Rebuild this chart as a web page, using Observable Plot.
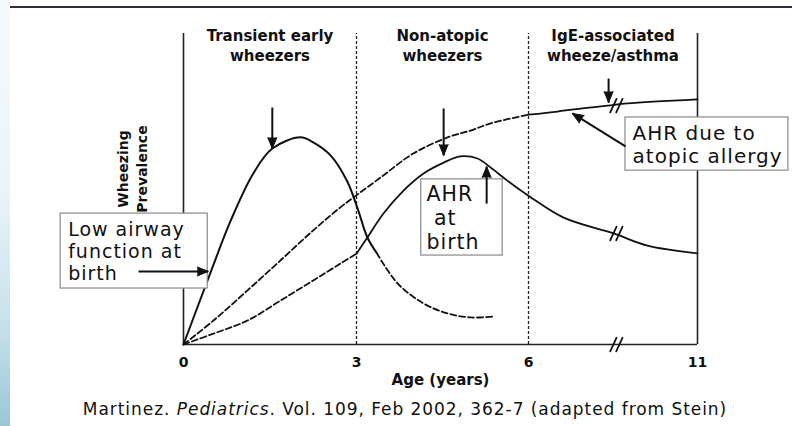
<!DOCTYPE html>
<html><head><meta charset="utf-8">
<script src="https://cdn.jsdelivr.net/npm/d3@7"></script>
<script src="https://cdn.jsdelivr.net/npm/@observablehq/plot@0.6"></script>
<style>
html,body{margin:0;padding:0;background:#fff;}
#wrap{position:relative;width:792px;height:426px;overflow:hidden;background:#fff;}
#chart{position:absolute;left:0;top:0;}
#strip{position:absolute;left:0;top:0;width:10px;height:426px;background:linear-gradient(#f5fbfd,#eaf4f9 45%,#c8e2ec 75%,#9cc7d7);}
#rule{position:absolute;left:10px;right:0;top:6px;height:2px;background:#2e2f36;}
#caption{position:absolute;left:0;width:810px;top:399px;text-align:center;font:17px/20px "DejaVu Sans",sans-serif;letter-spacing:0.95px;color:#111;white-space:nowrap;}
</style></head>
<body>
<div id="wrap"><div id="chart"></div><div id="strip"></div><div id="rule"></div>
<div id="caption">Martinez. <i>Pediatrics</i>. Vol. 109, Feb 2002, 362-7 (adapted from Stein)</div></div>
<script>
// ---- data (age in years, wheezing prevalence in arbitrary units 0-100) ----
const ageTicks = [0, 3, 6, 11];
const periodLabels = ["Transient early\nwheezers", "Non-atopic\nwheezers", "IgE-associated\nwheeze/asthma"];
const periodStarts = [0, 3, 6];
const periodEnds = [3, 6, 11];

const transientSolid = [[0,0],[0.47,23.2],[0.82,39.9],[1.21,55.0],[1.54,63.0],[2.03,66.6],[2.25,65.0],[2.55,60.8],[2.84,52.4],[3.02,43.7],[3.19,34.4],[3.35,29.5]];
const transientDashed = [[3.35,29.5],[3.72,19.6],[4.17,13.2],[4.59,10.0],[4.99,8.7],[5.39,9.0]];
const nonAtopicDashed = [[0,0],[0.52,3.5],[1.11,7.7],[1.68,14.1],[2.25,20.6],[2.72,26.0],[3.0,29.2]];
const nonAtopicSolid = [[3.0,29.2],[3.19,34.4],[3.47,42.1],[3.82,49.5],[4.17,55.0],[4.52,58.5],[4.81,60.5],[5.11,59.8],[5.34,56.9],[5.63,52.7],[6.03,47.6],[7.04,40.8],[8.52,35.7],[9.52,31.8],[11,29.3]];
const atopicDashed = [[0,0],[0.52,7.7],[1.11,17.4],[1.68,27.0],[2.25,36.7],[2.72,44.1],[2.95,47.3],[3.42,53.7],[3.99,61.4],[4.59,66.6],[4.99,68.8],[5.34,71.1],[6.0,73.9]];
const atopicSolid = [[6.0,73.9],[6.86,74.9],[7.33,75.6],[8.34,76.8],[8.93,77.5],[11,78.8]];

const breakAge = 8.6;
const breakLevels = [76.8, 35.7, 0];

const boxLabels = ["Low airway\nfunction at\nbirth", "AHR\n\u00a0at\nbirth", "AHR due to\natopic allergy"];
const boxAge = [[-2.13, 0.42], [4.13, 5.55], [8.87, 13.69]];
const boxPrev = [[18.0, 42.1], [28.6, 53.1], [55.9, 73.0]];
const boxTextAge = [-2.0, 4.22, 9.08];

// arrows: [tailAge, tailPrev, tipAge, tipPrev]
const arrowList = [
  [1.54, 76.2, 1.54, 63.0],
  [4.52, 75.9, 4.52, 60.8],
  [5.27, 45.3, 5.27, 57.2],
  [8.37, 85.5, 8.37, 77.8],
  [8.87, 63.7, 7.30, 74.3],
  [-0.78, 23.5, 0.43, 23.5]
];

// ---- build ----
const xOpts = {type: "linear", domain: ageTicks, range: [183, 356, 528, 697]};
const yOpts = {type: "linear", domain: [0, 100], range: [344, 33]};
const xs = Plot.scale({x: xOpts});
const ys = Plot.scale({y: yOpts});

const arrows = arrowList.map(([x1, y1, x2, y2]) => ({x1, y1, x2, y2}));
const angle = a => Math.atan2(xs.apply(a.x2) - xs.apply(a.x1), -(ys.apply(a.y2) - ys.apply(a.y1))) * 180 / Math.PI;

const boxes = boxLabels.map((label, i) => ({label, x1: boxAge[i][0], x2: boxAge[i][1], y1: boxPrev[i][0], y2: boxPrev[i][1], tx: boxTextAge[i]}));
const periods = periodLabels.map((label, i) => ({label, mid: (periodStarts[i] + periodEnds[i]) / 2}));
const breaks = breakLevels.map(y => ({x: breakAge, y}));

const slash = {draw(ctx, l) { ctx.moveTo(0, 0); ctx.lineTo(0, -l); }};
const ink = "#111";
const P = d => d[0], V = d => d[1];
const mid = d => (d.y1 + d.y2) / 2;

const chart = Plot.plot({
  width: 792, height: 400,
  marginLeft: 183, marginRight: 95, marginTop: 33, marginBottom: 56,
  x: {...xOpts, axis: null},
  y: {...yOpts, axis: null},
  style: {fontFamily: "DejaVu Sans", color: ink, background: "transparent"},
  marks: [
    Plot.ruleX([0, 11], {y1: 0, y2: 100, stroke: "#222", strokeWidth: 1.6}),
    Plot.ruleX([3, 6], {y1: 0, y2: 100, stroke: "#222", strokeWidth: 1.3, strokeDasharray: "3,2"}),
    Plot.ruleY([0], {x1: 0, x2: 11, stroke: "#222", strokeWidth: 1.6}),
    Plot.line(transientSolid, {x: P, y: V, curve: "catmull-rom", stroke: ink, strokeWidth: 2}),
    Plot.line(transientDashed, {x: P, y: V, curve: "catmull-rom", stroke: ink, strokeWidth: 1.8, strokeDasharray: "6,3"}),
    Plot.line(nonAtopicDashed, {x: P, y: V, curve: "catmull-rom", stroke: ink, strokeWidth: 1.8, strokeDasharray: "6,3"}),
    Plot.line(nonAtopicSolid, {x: P, y: V, curve: "catmull-rom", stroke: ink, strokeWidth: 1.8}),
    Plot.line(atopicDashed, {x: P, y: V, curve: "catmull-rom", stroke: ink, strokeWidth: 1.8, strokeDasharray: "6,3"}),
    Plot.line(atopicSolid, {x: P, y: V, curve: "catmull-rom", stroke: ink, strokeWidth: 1.8}),
    Plot.vector(breaks, {x: "x", y: "y", length: 15, rotate: 25, anchor: "middle", shape: slash, stroke: ink, strokeWidth: 1.8, dx: -3}),
    Plot.vector(breaks, {x: "x", y: "y", length: 15, rotate: 25, anchor: "middle", shape: slash, stroke: ink, strokeWidth: 1.8, dx: 3}),
    Plot.rect(boxes, {x1: "x1", x2: "x2", y1: "y1", y2: "y2", fill: "white", stroke: "#8a8a8a", strokeWidth: 1.2}),
    Plot.text(boxes.slice(0, 1), {x: "tx", y: mid, text: "label", textAnchor: "start", lineAnchor: "middle", fontSize: 19, lineHeight: 1.17}),
    Plot.text(boxes.slice(1, 2), {x: "tx", y: mid, text: "label", textAnchor: "start", lineAnchor: "middle", fontSize: 20.5, lineHeight: 1.17}),
    Plot.text(boxes.slice(2, 3), {x: "tx", y: mid, text: "label", textAnchor: "start", lineAnchor: "middle", fontSize: 20, lineHeight: 1.17}),
    Plot.link(arrows, {x1: "x1", y1: "y1", x2: "x2", y2: "y2", stroke: ink, strokeWidth: 2}),
    Plot.vector(arrows, {x: "x2", y: "y2", rotate: angle, length: 11, r: 4.5, shape: "spike", anchor: "end", fill: ink, stroke: ink, strokeWidth: 1}),
    Plot.text(periods, {x: "mid", frameAnchor: "top", dy: 11.5, lineAnchor: "middle", text: "label", fontSize: 15, fontWeight: "bold", lineHeight: 1.33}),
    Plot.text(ageTicks, {x: d => d, y: 0, dy: 18, lineAnchor: "middle", text: d => String(d), fontSize: 14, fontWeight: "bold"}),
    Plot.text(["Age (years)"], {frameAnchor: "bottom", dy: 36, lineAnchor: "middle", textAnchor: "middle", fontSize: 15, fontWeight: "bold"}),
    Plot.text(["Wheezing\nPrevalence"], {frameAnchor: "left", rotate: -90, dx: -52, dy: -20, textAnchor: "middle", lineAnchor: "middle", fontSize: 14, fontWeight: "bold", lineHeight: 1.36})
  ]
});
// widen the hand-lettered annotation text a little (letter spacing only)
d3.select(chart).selectAll("text").filter(function() {
  return boxLabels.some(l => l.replace(/\n/g, "") === this.textContent.replace(/\n/g, ""));
}).style("letter-spacing", "1px");
document.getElementById("chart").appendChild(chart);
</script>
</body></html>
